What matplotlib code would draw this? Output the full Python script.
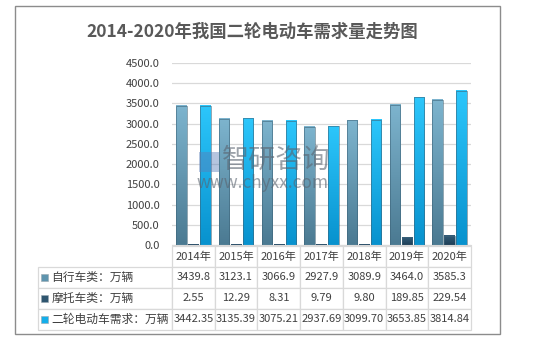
import numpy as np
import matplotlib
matplotlib.use("Agg")
import matplotlib.pyplot as plt
from matplotlib.patches import Rectangle
from matplotlib.colors import LinearSegmentedColormap

plt.rcParams['font.family'] = ['Noto Sans CJK SC', 'DejaVu Sans']

# data
years = ['2014年', '2015年', '2016年', '2017年', '2018年', '2019年', '2020年']
bike = [3439.8, 3123.1, 3066.9, 2927.9, 3089.9, 3464.0, 3585.3]
moto = [2.55, 12.29, 8.31, 9.79, 9.80, 189.85, 229.54]
ev = [3442.35, 3135.39, 3075.21, 2937.69, 3099.70, 3653.85, 3814.84]
row_labels = ['自行车类：万辆', '摩托车类：万辆', '二轮电动车需求：万辆']
title = '2014-2020年我国二轮电动车需求量走势图'

W, H = 534, 344
fig = plt.figure(figsize=(W / 100, H / 100), dpi=100)
fig.patch.set_facecolor('white')

# outer frame
fig.patches.append(Rectangle((15 / W, 1 - 334 / H), 485 / W, 328 / H, transform=fig.transFigure,
                             fill=False, edgecolor='#8c8c8c', lw=1))

ax = fig.add_axes([172 / W, 1 - 245 / H, 299 / W, 182 / H])

x = np.arange(len(years))
bw = 0.245
off = 0.28
series = [
    (bike, '#7DB4CE', '#4B7A92', '#5E94AE'),
    (moto, '#335C78', '#1E3F57', '#2F5670'),
    (ev, '#2CC6FB', '#0892CE', '#14AEEA'),
]
for i, (vals, top, bot, sq) in enumerate(series):
    bars = ax.bar(x + (i - 1) * off, vals, bw, color='none', edgecolor='#3d6378', lw=0.4, zorder=3)
    cmap = LinearSegmentedColormap.from_list('g%d' % i, [bot, top])
    grad = np.linspace(0, 1, 64).reshape(-1, 1)
    for b in bars:
        ax.imshow(grad, cmap=cmap, origin='lower', aspect='auto', zorder=2,
                  extent=[b.get_x(), b.get_x() + b.get_width(), 0, b.get_height()])

ax.set_xlim(-0.5, len(years) - 0.5)
ax.set_ylim(0, 4500)
ax.set_yticks(np.arange(0, 4501, 500))
ax.set_yticklabels(['%.1f' % v for v in np.arange(0, 4501, 500)], fontsize=8, color='#404040')
ax.set_xticks([])
ax.yaxis.grid(True, color='#d9d9d9', lw=0.9)
ax.set_axisbelow(True)
for s in ['left', 'right', 'top']:
    ax.spines[s].set_visible(False)
ax.spines['bottom'].set_color('#d9d9d9')
ax.tick_params(axis='y', length=0, pad=9)

# data table
cells = [['%.1f' % v for v in bike], ['%.2f' % v for v in moto], ['%.2f' % v for v in ev]]
cell_text = [[row_labels[r]] + cells[r] for r in range(3)]
lab_w = 134 / 299
tab = ax.table(cellText=cell_text, colLabels=[''] + years, cellLoc='center',
               colWidths=[lab_w] + [1 / 7] * 7,
               bbox=[-lab_w, -0.467, 1 + lab_w, 0.462])
tab.auto_set_font_size(False)
for (r, c), cell in tab.get_celld().items():
    cell.set_edgecolor('#d9d9d9')
    cell.set_linewidth(0.9)
    cell.get_text().set_color('#404040')
    cell.get_text().set_fontsize(8)
    if c == 0:
        cell.get_text().set_ha('left')
        cell.get_text().set_fontsize(8.5)
        cell._loc = 'left'
    if r == 0 and c == 0:
        cell.visible_edges = ''

# legend squares in row label cells
row_h = 0.462 / 4
for r, (_, _, _, sq) in enumerate(series):
    yc = -0.467 + row_h * (2.5 - r)
    ax.add_patch(Rectangle((-0.438, yc - 0.019), 0.023, 0.038, transform=ax.transAxes,
                           facecolor=sq, edgecolor='#9aa8b0', lw=0.4, clip_on=False))

fig.text(252 / W, 1 - 32 / H, title, ha='center', va='center', fontsize=12.5,
         fontweight='bold', color='#595959')

# watermark
fig.patches.append(Rectangle((199 / W, 1 - 172 / H), 20 / W, 20 / H, transform=fig.transFigure,
                             facecolor='#5b7fb8', alpha=0.45, edgecolor='none'))
fig.text(222 / W, 1 - 160 / H, '智研咨询', fontsize=19.5, color='#5a6470', alpha=0.6,
         ha='left', va='center')
fig.text(197 / W, 1 - 183 / H, 'www.chyxx.com', fontsize=12.5, color='#5a6470', alpha=0.6,
         ha='left', va='center')

fig.savefig('out.png', dpi=100)
